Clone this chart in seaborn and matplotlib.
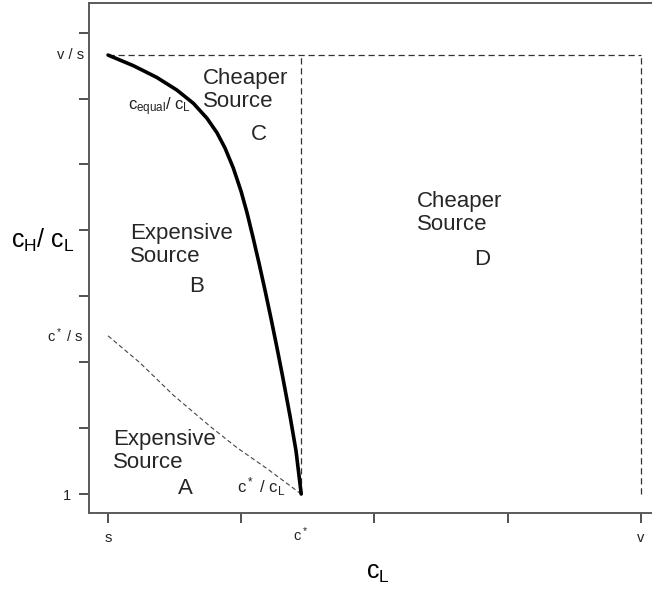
import matplotlib
matplotlib.use("Agg")
import matplotlib.pyplot as plt
import matplotlib.transforms as mtransforms
import pandas as pd
import seaborn as sns

# Key levels on the axes
s_val = 1.0          # s
c_star = 2.45        # c*
v_val = 5.0          # v
v_over_s = 7.66      # v / s
cstar_over_s = 3.40  # c* / s

# Break-even curve c_equal / c_L
equal_x = [1.0, 1.190, 1.365, 1.516, 1.640, 1.743, 1.818, 1.878, 1.940, 1.998,
           2.043, 2.088, 2.133, 2.178, 2.223, 2.268, 2.313, 2.366, 2.411, 2.45]
equal_y = [7.66, 7.499, 7.322, 7.130, 6.929, 6.700, 6.480, 6.249, 5.947, 5.596,
           5.269, 4.895, 4.504, 4.094, 3.666, 3.220, 2.756, 2.182, 1.654, 1.0]

# Lower boundary c* / c_L
lower_x = [1.0, 1.24, 1.49, 1.77, 1.97, 2.19, 2.45]
lower_y = [3.40, 2.99, 2.50, 2.02, 1.70, 1.39, 1.0]

x_ticks = [1, 2, 3, 4, 5]
y_ticks = [1, 2, 3, 4, 5, 6, 7, 8]

sns.set_theme(style="white")
plt.rcParams["font.family"] = ["Liberation Sans", "DejaVu Sans"]
plt.rcParams["mathtext.fontset"] = "custom"
plt.rcParams["mathtext.rm"] = "Liberation Sans"
plt.rcParams["mathtext.it"] = "Liberation Sans"
plt.rcParams["mathtext.bf"] = "Liberation Sans:bold"

W, H = 652, 592
fig = plt.figure(figsize=(W / 100, H / 100), dpi=100)
ax = fig.add_axes([89 / W, (H - 513) / H, 1 - 89 / W, 510 / H])

ax.set_xlim(0.857, 5.083)
ax.set_ylim(0.712, 8.45)

df_equal = pd.DataFrame({"cL": equal_x, "ratio": equal_y})
df_lower = pd.DataFrame({"cL": lower_x, "ratio": lower_y})

# dashed frame of the region boundaries
frame_col = "#333333"
for xs, ys in [([s_val, v_val], [v_over_s, v_over_s]),
               ([c_star, c_star], [1.0, v_over_s]),
               ([v_val, v_val], [1.0, v_over_s])]:
    ax.plot(xs, ys, color=frame_col, lw=0.9, dashes=(5, 3))

sns.lineplot(data=df_lower, x="cL", y="ratio", ax=ax, color="#444444",
             linewidth=0.8, sort=False, estimator=None)
ax.lines[-1].set_dashes((4, 2.5))
sns.lineplot(data=df_equal, x="cL", y="ratio", ax=ax, color="black",
             linewidth=2.6, sort=False, estimator=None)
ax.lines[-1].set_solid_joinstyle("round")
ax.lines[-1].set_solid_capstyle("round")

# axes styling
spine_col = "#5a5a5a"
for side in ["left", "bottom", "top"]:
    ax.spines[side].set_color(spine_col)
    ax.spines[side].set_linewidth(1.4)
ax.spines["right"].set_visible(False)

ax.set_xticks(x_ticks)
ax.set_xticklabels(["s", "", "", "", "v"])
ax.set_yticks(y_ticks)
ax.set_yticklabels(["1", "", "", "", "", "", "", ""])
ax.tick_params(axis="both", which="major", length=7, width=1.2,
               color="#333333", labelsize=10.5, labelcolor="#222222",
               direction="out", bottom=True, left=True)
ax.tick_params(axis="x", pad=6)
ax.tick_params(axis="y", pad=6)
ax.set_xlabel("")
ax.set_ylabel("")
ax.grid(False)

# extra axis labels between ticks
xt = mtransforms.blended_transform_factory(ax.transData, ax.transAxes)
yt = mtransforms.blended_transform_factory(ax.transAxes, ax.transData)
ax.text(c_star, -0.025, r"$c^*$", transform=xt, ha="center", va="top",
        fontsize=10.5, color="#222222")
ax.text(-0.008, v_over_s, "v / s", transform=yt, ha="right", va="center",
        fontsize=10.5, color="#222222")
ax.text(-0.010, cstar_over_s, r"$c^*$ / s", transform=yt, ha="right",
        va="center", fontsize=10.5, color="#222222")

# axis titles
fig.text(378 / W, 1 - 573 / H, r"$c_L$", ha="center", va="center",
         fontsize=18, color="black")
fig.text(43 / W, 1 - 240 / H, r"$c_H$/ $c_L$", ha="center", va="center",
         fontsize=18, color="black")

# region annotations
region_fs = 16
ax.text(1.713, 7.13, "Cheaper\nSource", ha="left", va="center",
        fontsize=region_fs, linespacing=1.12)
ax.text(2.133, 6.45, "C", ha="center", va="center", fontsize=region_fs)
ax.text(3.319, 5.264, "Cheaper\nSource", ha="left", va="center",
        fontsize=region_fs, linespacing=1.12)
ax.text(3.807, 4.551, "D", ha="center", va="center", fontsize=region_fs)
ax.text(1.165, 4.778, "Expensive\nSource", ha="left", va="center",
        fontsize=region_fs, linespacing=1.12)
ax.text(1.668, 4.141, "B", ha="center", va="center", fontsize=region_fs)
ax.text(1.0375, 1.652, "Expensive\nSource", ha="left", va="center",
        fontsize=region_fs, linespacing=1.12)
ax.text(1.578, 1.091, "A", ha="center", va="center", fontsize=region_fs)

# curve labels
ax.text(1.15, 6.87, r"$c_{equal}$/ $c_L$", ha="left", va="center",
        fontsize=12, color="#222222")
ax.text(1.968, 1.106, r"$c^*$ / $c_L$", ha="left", va="center",
        fontsize=12, color="#222222")

fig.savefig("out.png", dpi=100)
